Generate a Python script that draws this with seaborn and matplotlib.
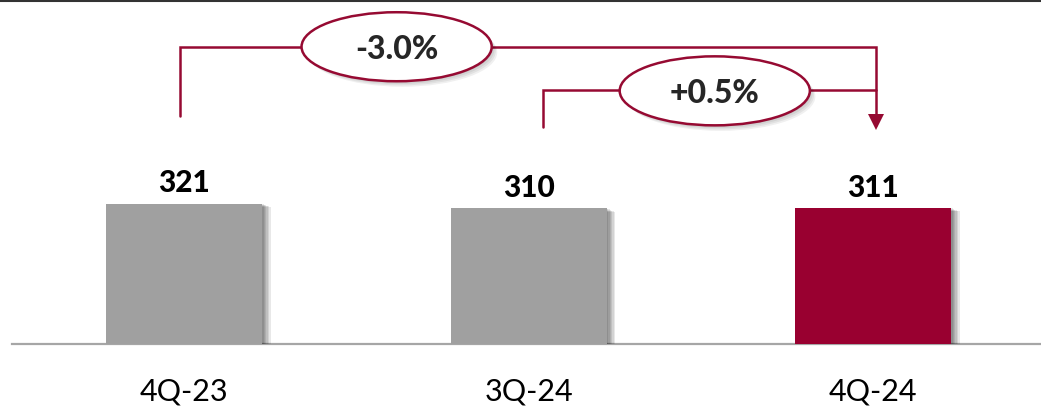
import matplotlib
matplotlib.use("Agg")
import matplotlib.pyplot as plt
import matplotlib.patheffects as pe
from matplotlib.patches import Ellipse
from matplotlib.lines import Line2D
import seaborn as sns
import pandas as pd

# Quarterly values
quarters = ["4Q-23", "3Q-24", "4Q-24"]
values = [321, 310, 311]
bar_colors = ["#A0A0A0", "#A0A0A0", "#990030"]

# Change callouts
changes = ["-3.0%", "+0.5%"]

df = pd.DataFrame({"quarter": quarters, "value": values})

sns.set_theme(style="white")
plt.rcParams["font.family"] = ["Lato", "DejaVu Sans"]

ACCENT = "#960A32"

fig = plt.figure(figsize=(10.41, 4.11), dpi=100)
ax = fig.add_axes([12 / 1041, 67.3 / 411, 1029 / 1041, 343.7 / 411])

sns.barplot(data=df, x="quarter", y="value", hue="quarter", palette=bar_colors,
            width=0.453, legend=False, ax=ax, saturation=1, zorder=3)

# Soft drop shadow on the bars
shadow = [pe.SimplePatchShadow(offset=(d, -0.4 * d), shadow_rgbFace="black", alpha=0.09)
          for d in (1, 2, 3, 4, 5, 6)] + [pe.Normal()]
for p in ax.patches:
    p.set_path_effects(shadow)
    p.set_edgecolor("none")

ax.set_xlim(-0.5, 2.487)
ax.set_ylim(0, 787)

# Value labels above bars
for i, v in enumerate(values):
    ax.annotate(f"{v}", (i, v), xytext=(0, 8), textcoords="offset points",
                ha="center", va="baseline", fontsize=21.5, fontweight="black",
                color="black", zorder=5)

# Axis styling
for s in ["top", "right", "left"]:
    ax.spines[s].set_visible(False)
ax.spines["bottom"].set_color("#A6A6A6")
ax.spines["bottom"].set_linewidth(1.6)
ax.set_yticks([])
ax.set_xlabel("")
ax.set_ylabel("")
ax.tick_params(axis="x", length=0, pad=24, labelsize=22, labelcolor="black")

# Bracket connectors with change labels
lw = 1.8
y_top, y_mid = 680, 580
x_a, x_b, x_end = -0.013, 1.04, 2.007
ax.plot([x_a, x_a, x_end, x_end], [522, y_top, y_top, 500],
        color=ACCENT, lw=lw, zorder=4, solid_joinstyle="miter")
ax.plot([x_b, x_b, x_end], [497, y_mid, y_mid],
        color=ACCENT, lw=lw, zorder=4, solid_joinstyle="miter")
ax.plot([x_end], [507], marker="v", markersize=11, color=ACCENT,
        markeredgewidth=0, zorder=4)

ell_shadow = [pe.SimplePatchShadow(offset=(d, -d), shadow_rgbFace="black", alpha=0.06)
              for d in (1, 2, 3, 4)] + [pe.Normal()]
for (cx, cy), label in zip([(0.6165, 680), (1.540, 579)], changes):
    e = Ellipse((cx, cy), width=0.552, height=158, facecolor="white",
                edgecolor=ACCENT, lw=1.8, zorder=6)
    e.set_path_effects(ell_shadow)
    ax.add_patch(e)
    ax.text(cx, cy, label, ha="center", va="center_baseline", fontsize=23,
            fontweight="black", color="#262626", zorder=7)

# Thin rule along the top edge
fig.add_artist(Line2D([0, 1], [1 - 0.8 / 411, 1 - 0.8 / 411], transform=fig.transFigure,
                      color="#333333", lw=1.5))

fig.savefig("out.png", dpi=100)
